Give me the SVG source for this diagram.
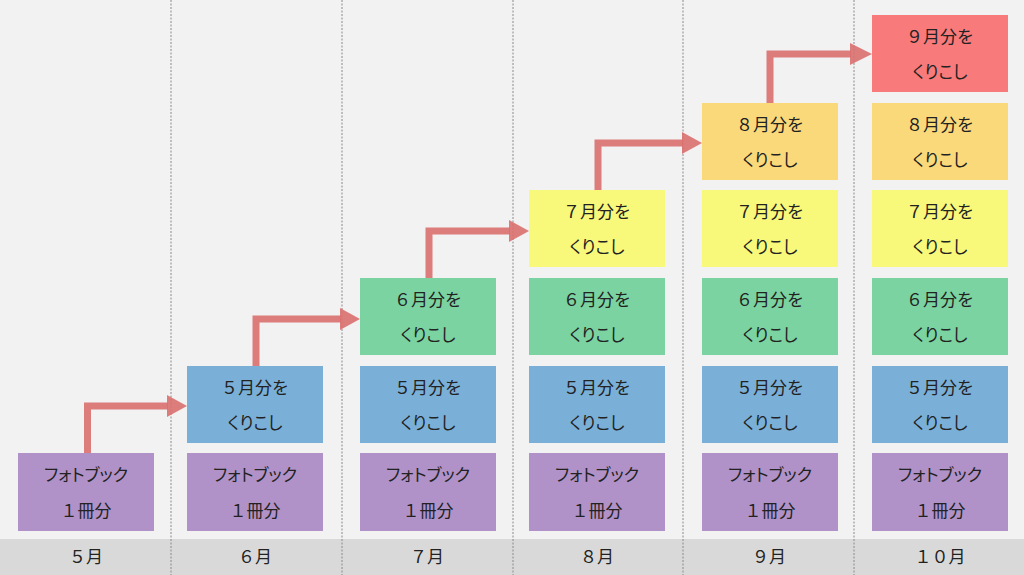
<svg xmlns="http://www.w3.org/2000/svg" width="1024" height="575" viewBox="0 0 1024 575">
<defs>
<style>
.t{font-family:"Noto Sans CJK JP","Noto Sans",sans-serif;font-size:17px;fill:#222;text-anchor:middle}
.k{font-feature-settings:"palt" 1}
.p{fill:#b192c8}.b{fill:#7ab0d8}.g{fill:#7ad3a0}.y{fill:#f8f87a}.o{fill:#fad97a}.r{fill:#f87a7a}
.sep{stroke:#8a8a8a;stroke-width:1;stroke-dasharray:2 1.5}
.ar{fill:none;stroke:#d9706f;stroke-width:7;stroke-opacity:0.9}
.ah{fill:#d9706f;fill-opacity:0.9}
</style>
</defs>
<rect width="1024" height="575" fill="#f2f2f2"/>
<rect x="0" y="539" width="1024" height="36" fill="#d9d9d9"/>
<g id="separators">
<line class="sep" x1="171" y1="0" x2="171" y2="575"/>
<line class="sep" x1="342" y1="0" x2="342" y2="575"/>
<line class="sep" x1="513" y1="0" x2="513" y2="575"/>
<line class="sep" x1="683" y1="0" x2="683" y2="575"/>
<line class="sep" x1="854" y1="0" x2="854" y2="575"/>
</g>
<g id="months">
<text class="t" x="86" y="563">５月</text>
<text class="t" x="255" y="563">６月</text>
<text class="t" x="427" y="563">７月</text>
<text class="t" x="597" y="563">８月</text>
<text class="t" x="769" y="563">９月</text>
<text class="t" x="940" y="563">１０月</text>
</g>
<g id="col1">
<g id="c1-photo"><rect class="p" x="18" y="453" width="136" height="78"/><text class="t k" x="86" y="481">フォトブック</text><text class="t" x="86" y="517">１冊分</text></g>
</g>
<g id="col2">
<g id="c2-photo"><rect class="p" x="187" y="453" width="136" height="78"/><text class="t k" x="255" y="481">フォトブック</text><text class="t" x="255" y="517">１冊分</text></g>
<g id="c2-may"><rect class="b" x="187" y="366" width="136" height="77"/><text class="t" x="255" y="394">５月分を</text><text class="t k" x="255" y="429">くりこし</text></g>
</g>
<g id="col3">
<g id="c3-photo"><rect class="p" x="360" y="453" width="136" height="78"/><text class="t k" x="428" y="481">フォトブック</text><text class="t" x="428" y="517">１冊分</text></g>
<g id="c3-may"><rect class="b" x="360" y="366" width="136" height="77"/><text class="t" x="428" y="394">５月分を</text><text class="t k" x="428" y="429">くりこし</text></g>
<g id="c3-jun"><rect class="g" x="360" y="278" width="136" height="77"/><text class="t" x="428" y="306">６月分を</text><text class="t k" x="428" y="341">くりこし</text></g>
</g>
<g id="col4">
<g id="c4-photo"><rect class="p" x="529" y="453" width="136" height="78"/><text class="t k" x="597" y="481">フォトブック</text><text class="t" x="597" y="517">１冊分</text></g>
<g id="c4-may"><rect class="b" x="529" y="366" width="136" height="77"/><text class="t" x="597" y="394">５月分を</text><text class="t k" x="597" y="429">くりこし</text></g>
<g id="c4-jun"><rect class="g" x="529" y="278" width="136" height="77"/><text class="t" x="597" y="306">６月分を</text><text class="t k" x="597" y="341">くりこし</text></g>
<g id="c4-jul"><rect class="y" x="529" y="190" width="136" height="77"/><text class="t" x="597" y="218">７月分を</text><text class="t k" x="597" y="253">くりこし</text></g>
</g>
<g id="col5">
<g id="c5-photo"><rect class="p" x="702" y="453" width="136" height="78"/><text class="t k" x="770" y="481">フォトブック</text><text class="t" x="770" y="517">１冊分</text></g>
<g id="c5-may"><rect class="b" x="702" y="366" width="136" height="77"/><text class="t" x="770" y="394">５月分を</text><text class="t k" x="770" y="429">くりこし</text></g>
<g id="c5-jun"><rect class="g" x="702" y="278" width="136" height="77"/><text class="t" x="770" y="306">６月分を</text><text class="t k" x="770" y="341">くりこし</text></g>
<g id="c5-jul"><rect class="y" x="702" y="190" width="136" height="77"/><text class="t" x="770" y="218">７月分を</text><text class="t k" x="770" y="253">くりこし</text></g>
<g id="c5-aug"><rect class="o" x="702" y="103" width="136" height="77"/><text class="t" x="770" y="131">８月分を</text><text class="t k" x="770" y="166">くりこし</text></g>
</g>
<g id="col6">
<g id="c6-photo"><rect class="p" x="872" y="453" width="136" height="78"/><text class="t k" x="940" y="481">フォトブック</text><text class="t" x="940" y="517">１冊分</text></g>
<g id="c6-may"><rect class="b" x="872" y="366" width="136" height="77"/><text class="t" x="940" y="394">５月分を</text><text class="t k" x="940" y="429">くりこし</text></g>
<g id="c6-jun"><rect class="g" x="872" y="278" width="136" height="77"/><text class="t" x="940" y="306">６月分を</text><text class="t k" x="940" y="341">くりこし</text></g>
<g id="c6-jul"><rect class="y" x="872" y="190" width="136" height="77"/><text class="t" x="940" y="218">７月分を</text><text class="t k" x="940" y="253">くりこし</text></g>
<g id="c6-aug"><rect class="o" x="872" y="103" width="136" height="77"/><text class="t" x="940" y="131">８月分を</text><text class="t k" x="940" y="166">くりこし</text></g>
<g id="c6-sep"><rect class="r" x="872" y="15" width="136" height="77"/><text class="t" x="940" y="43">９月分を</text><text class="t k" x="940" y="78">くりこし</text></g>
</g>
<g id="connectors">
<path class="ar" d="M87.5 453 V406 H168"/><polygon class="ah" points="167,395 187,406 167,417"/>
<path class="ar" d="M256 366 V319 H341"/><polygon class="ah" points="340,308 360,319 340,330"/>
<path class="ar" d="M429 278 V231 H510"/><polygon class="ah" points="509,220 529,231 509,242"/>
<path class="ar" d="M598 190 V143 H683"/><polygon class="ah" points="682,132 702,143 682,154"/>
<path class="ar" d="M770 103 V54 H851"/><polygon class="ah" points="850,43 872,54 850,65"/>
</g>
</svg>
